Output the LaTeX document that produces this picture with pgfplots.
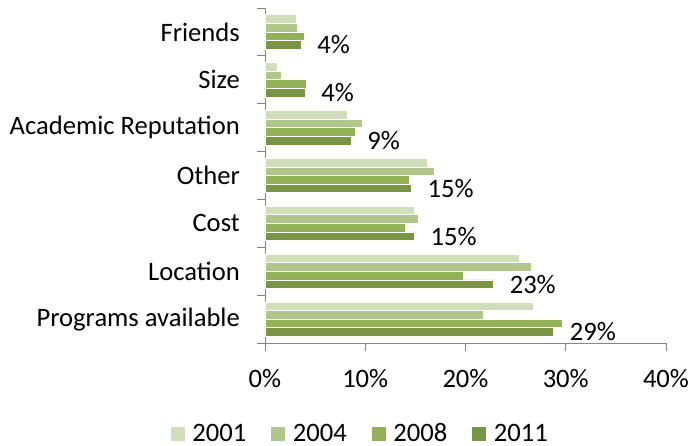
\documentclass[border=0pt]{standalone}
\usepackage{pgfplots}
\pgfplotsset{compat=1.18}
\usepackage{fontspec}
\setmainfont{Carlito}
\definecolor{cA}{HTML}{D0DEBB}
\definecolor{cB}{HTML}{AFC78A}
\definecolor{cC}{HTML}{93B157}
\definecolor{cD}{HTML}{7A9446}
\definecolor{axgray}{HTML}{868686}
\begin{document}
\begin{tikzpicture}[font=\fontsize{26.6}{32}\selectfont]
\useasboundingbox (-265pt,-103pt) rectangle (426pt,343pt);
\begin{axis}[at={(0,0)}, anchor=south west, scale only axis,
  width=401pt, height=335pt,
  xbar, bar width=0.18,
  xmin=0, xmax=40, ymin=-0.5, ymax=6.5,
  axis lines=left,
  axis line style={-, draw=axgray, line width=0.8pt},
  tick style={draw=axgray, line width=0.8pt},
  tick align=outside,
  major tick length=8pt,
  xtick={0,10,20,30,40},
  xticklabels={0\%,10\%,20\%,30\%,40\%},
  xticklabel style={inner sep=0pt, yshift=-18pt},
  ytick={-0.5,0.5,...,6.5},
  yticklabels={},
  extra y ticks={0,1,2,3,4,5,6},
  extra y tick labels={Programs available,Location,Cost,Other,Academic Reputation,Size,Friends},
  extra y tick style={major tick length=0pt, yticklabel style={inner sep=0pt, xshift=-25pt}},
  legend style={draw=none, at={(0.234,-0.27)}, anchor=center, legend columns=4,
    /tikz/every odd column/.append style={column sep=7pt},
    /tikz/every even column/.append style={column sep=24pt},
    nodes={inner sep=0pt, text height=17pt, text depth=0pt, anchor=base}},
  legend image code/.code={\fill[#1] (0pt,1pt) rectangle (15pt,16pt);},
]
\addplot[fill=cA, draw=white, line width=0.6pt, bar shift=0.27] coordinates {(26.8,0) (25.4,1) (14.9,2) (16.2,3) (8.2,4) (1.2,5) (3.1,6)};
\addplot[fill=cB, draw=white, line width=0.6pt, bar shift=0.09] coordinates {(21.8,0) (26.6,1) (15.3,2) (16.9,3) (9.7,4) (1.6,5) (3.2,6)};
\addplot[fill=cC, draw=white, line width=0.6pt, bar shift=-0.09] coordinates {(29.7,0) (19.8,1) (14.0,2) (14.4,3) (9.0,4) (4.1,5) (3.9,6)};
\addplot[fill=cD, draw=white, line width=0.6pt, bar shift=-0.27] coordinates {(28.8,0) (22.8,1) (14.9,2) (14.6,3) (8.6,4) (4.0,5) (3.6,6)};
\legend{2001,2004,2008,2011}
\addplot[draw=none, fill=none, bar shift=-0.27, forget plot,
  nodes near coords, point meta=explicit symbolic,
  nodes near coords style={anchor=west, inner sep=0pt, xshift=16pt, text=black}]
  coordinates {(28.8,0)[29\%] (22.8,1)[23\%] (14.9,2)[15\%] (14.6,3)[15\%] (8.6,4)[9\%] (4.0,5)[4\%] (3.6,6)[4\%]};
\end{axis}
\end{tikzpicture}
\end{document}
